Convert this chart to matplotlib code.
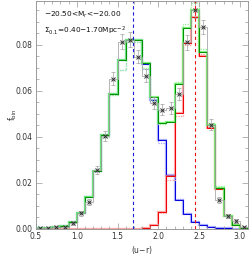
import numpy as np
import matplotlib
matplotlib.use("Agg")
import matplotlib.pyplot as plt
from matplotlib.ticker import MultipleLocator

# bin edges (u-r)
edges = [0.5, 0.6, 0.7, 0.8, 0.9, 1.0, 1.1, 1.2, 1.3, 1.4, 1.5, 1.6, 1.7, 1.8,
         1.9, 2.0, 2.1, 2.2, 2.3, 2.4, 2.5, 2.6, 2.7, 2.8, 2.9, 3.0, 3.1]
centers = [0.55, 0.65, 0.75, 0.85, 0.95, 1.05, 1.15, 1.25, 1.35, 1.45, 1.55, 1.65, 1.75,
           1.85, 1.95, 2.05, 2.15, 2.25, 2.35, 2.45, 2.55, 2.65, 2.75, 2.85, 2.95, 3.05]

# observed fractions with errors
data_f = [0.0003, 0.0004, 0.0008, 0.0010, 0.0026, 0.0068, 0.0116, 0.0257, 0.0404, 0.0652,
          0.0814, 0.0822, 0.0749, 0.0666, 0.0546, 0.0517, 0.0525, 0.0586, 0.0810, 0.0952,
          0.0877, 0.0452, 0.0124, 0.0058, 0.0035, 0.0010]
data_err = [0.0002, 0.0003, 0.0004, 0.0005, 0.0008, 0.0010, 0.0013, 0.0018, 0.0022, 0.0028,
            0.0032, 0.0033, 0.0030, 0.0028, 0.0025, 0.0024, 0.0025, 0.0027, 0.0032, 0.0034,
            0.0032, 0.0024, 0.0013, 0.0009, 0.0007, 0.0004]

# model: total (green), blue and red components
total_f = [0.0003, 0.0005, 0.0008, 0.0013, 0.0032, 0.0071, 0.0140, 0.0253, 0.0406, 0.0585,
           0.0735, 0.0822, 0.0822, 0.0720, 0.0575, 0.0460, 0.0465, 0.0629, 0.0873, 0.0952,
           0.0767, 0.0450, 0.0177, 0.0058, 0.0017, 0.0005]
total_dot = [0.0003, 0.0005, 0.0008, 0.0014, 0.0030, 0.0068, 0.0145, 0.0250, 0.0400, 0.0580,
             0.0690, 0.0810, 0.0810, 0.0700, 0.0560, 0.0455, 0.0470, 0.0640, 0.0890, 0.0980,
             0.0780, 0.0460, 0.0185, 0.0062, 0.0018, 0.0005]
blue_f = [0.0003, 0.0005, 0.0008, 0.0013, 0.0032, 0.0071, 0.0140, 0.0253, 0.0406, 0.0585,
          0.0735, 0.0822, 0.0822, 0.0717, 0.0560, 0.0387, 0.0235, 0.0126, 0.0065, 0.0032,
          0.0017, 0.0008, 0.0005, 0.0003, 0.0002, 0.0001]
blue_dot = [0.0003, 0.0005, 0.0008, 0.0014, 0.0030, 0.0068, 0.0145, 0.0250, 0.0400, 0.0580,
            0.0690, 0.0810, 0.0810, 0.0695, 0.0545, 0.0373, 0.0230, 0.0130, 0.0070, 0.0034,
            0.0018, 0.0009, 0.0005, 0.0003, 0.0002, 0.0001]
red_f = [0.0, 0.0, 0.0, 0.0, 0.0, 0.0, 0.0, 0.0, 0.0, 0.0,
         0.0, 0.0, 0.0, 0.0003, 0.0017, 0.0072, 0.0228, 0.0503, 0.0808, 0.0920,
         0.0750, 0.0440, 0.0172, 0.0056, 0.0016, 0.0005]
red_dot = [0.0, 0.0, 0.0, 0.0, 0.0, 0.0, 0.0, 0.0, 0.0, 0.0,
           0.0, 0.0, 0.0, 0.0003, 0.0016, 0.0070, 0.0213, 0.0490, 0.0800, 0.0950,
           0.0760, 0.0445, 0.0178, 0.0060, 0.0017, 0.0005]

peak_blue = 1.69
peak_red = 2.45
label1 = r"$-$20.50<M$_r$<$-$20.00"
label2 = r"$\Sigma_{0.1}$=0.40$-$1.70Mpc$^{-2}$"

plt.rcParams['font.family'] = ['DejaVu Sans']
plt.rcParams['mathtext.fontset'] = 'dejavusans'
fig = plt.figure(figsize=(2.49, 2.57), dpi=100)
ax = fig.add_axes([36/249, 28/257, 212/249, 228/257])

# blue component
ax.stairs(blue_dot, edges, color='#a0a0ff', lw=0.9, ls=(0, (1, 1)))
ax.stairs(blue_f, edges, color='#8c8cff', lw=1.6, alpha=0.7)
ax.stairs(blue_f, edges, color='#0000dd', lw=0.7)
# red component
ax.stairs(red_dot, edges, color='#ffa0a0', lw=0.9, ls=(0, (1, 1)))
ax.stairs(red_f, edges, color='#ff8080', lw=1.6, alpha=0.7)
ax.stairs(red_f, edges, color='#ee0000', lw=0.7)
# total
ax.stairs(total_dot, edges, color='#90f090', lw=0.9, ls=(0, (1, 1)))
ax.stairs(total_f, edges, color='#60f060', lw=1.6, alpha=0.8)
ax.stairs(total_f, edges, color='#009000', lw=0.7)

# data
ax.stairs(data_f, edges, color='#a8a8a8', lw=0.6)
ax.errorbar(centers, data_f, yerr=data_err, fmt='none', ecolor='#a0a0a0',
            elinewidth=0.5, capsize=1.3, capthick=0.5)
ax.plot(centers, data_f, ls='none', marker='x', ms=2.2, mew=0.7, color='#303030')

ax.axvline(peak_blue, color='#1c1ce0', ls=(0, (3, 2.5)), lw=0.8)
ax.axvline(peak_red, color='#ee1111', ls=(0, (3, 2.5)), lw=0.8)

ax.set_xlim(0.5, 3.1)
ax.set_ylim(0.0, 0.099)
ax.xaxis.set_minor_locator(MultipleLocator(0.1))
ax.yaxis.set_minor_locator(MultipleLocator(0.005))
ax.set_xticks([0.5, 1.0, 1.5, 2.0, 2.5, 3.0])
ax.set_xticklabels(['0.5', '1.0', '1.5', '2.0', '2.5', '3.0'])
ax.set_yticks([0.0, 0.02, 0.04, 0.06, 0.08])
ax.set_yticklabels(['0.00', '0.02', '0.04', '0.06', '0.08'])
ax.tick_params(which='both', direction='in', top=True, right=True,
               labelsize=5.5, colors='#999999', labelcolor='#333333', width=0.5)
ax.tick_params(which='major', length=4, pad=2.5)
ax.tick_params(which='minor', length=2)
for s in ax.spines.values():
    s.set_color('#999999')
    s.set_linewidth(0.7)

ax.text(0.04, 0.94, label1, transform=ax.transAxes, fontsize=5.3, color='#111111',
        ha='left', va='center')
ax.text(0.04, 0.87, label2, transform=ax.transAxes, fontsize=5.3, color='#111111',
        ha='left', va='center')
ax.set_xlabel('(u$-$r)', fontsize=5.5, color='#333333', labelpad=2)
ax.set_ylabel(r'f$_{\rm bin}$', fontsize=5.5, color='#333333', va='center')
ax.yaxis.set_label_coords(-0.11, 0.5)

fig.savefig('out.png', dpi=100)
